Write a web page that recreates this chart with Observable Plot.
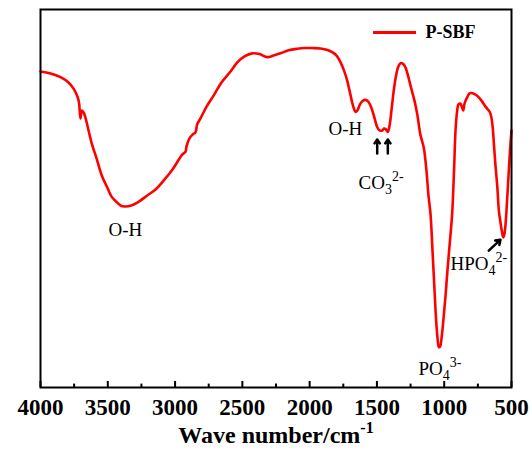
<!DOCTYPE html>
<html>
<head>
<meta charset="utf-8">
<script src="https://cdn.jsdelivr.net/npm/d3@7"></script>
<script src="https://cdn.jsdelivr.net/npm/@observablehq/plot@0.6"></script>
<style>
  html, body { margin: 0; padding: 0; background: #fff; }
  #chart svg { display: block; }
</style>
</head>
<body>
<div id="chart"></div>
<script>
// ---- Data ----
const wavenumber = [
  4000, 3926, 3851, 3792, 3753, 3725, 3714, 3703, 3692, 3680, 3666, 3643, 3621, 3579, 3547, 3504,
  3472, 3430, 3398, 3368, 3331, 3281, 3207, 3145, 3084, 3019, 2947, 2934, 2922, 2915, 2893, 2870,
  2848, 2836, 2811, 2766, 2714, 2655, 2588, 2538, 2484, 2427, 2373, 2315, 2269, 2217, 2157, 2092,
  2031, 1979, 1919, 1867, 1832, 1800, 1771, 1745, 1721, 1704, 1684, 1671, 1659, 1645, 1626, 1607,
  1585, 1566, 1548, 1525, 1498, 1481, 1461, 1447, 1436, 1419, 1406, 1392, 1377, 1362, 1343, 1325,
  1306, 1288, 1269, 1247, 1221, 1199, 1176, 1152, 1132, 1117, 1102, 1087, 1072, 1061, 1050, 1040,
  1031, 1020, 1005, 990, 976, 957, 941, 927, 916, 905, 894, 879, 868, 859, 849, 829,
  812, 797, 775, 753, 723, 693, 663, 652, 641, 631, 619, 606, 594, 582, 570, 561,
  552, 541, 532, 522, 511, 500
];
const transmittance = [
  83.6, 83.1, 82.1, 80.7, 79.0, 76.9, 75.4, 71.2, 73.3, 72.8, 71.4, 68.0, 64.8, 60.1, 56.3, 52.9,
  50.5, 48.9, 48.0, 47.9, 48.1, 48.9, 50.8, 52.4, 54.8, 57.7, 61.6, 62.0, 62.4, 63.8, 65.9, 66.9,
  67.5, 69.6, 71.2, 74.3, 77.2, 80.7, 83.6, 86.0, 87.6, 88.4, 88.2, 87.4, 87.8, 88.4, 89.2, 89.6,
  89.8, 89.8, 89.7, 89.3, 88.7, 87.8, 86.1, 83.9, 81.2, 78.6, 75.4, 73.8, 72.9, 73.3, 74.9, 75.8,
  76.1, 75.7, 74.6, 72.2, 68.9, 68.0, 68.0, 68.5, 68.4, 67.6, 69.3, 73.3, 78.0, 81.7, 84.7, 85.8,
  85.6, 84.7, 82.5, 79.4, 75.9, 72.0, 66.7, 63.5, 57.4, 50.8, 46.0, 36.2, 25.7, 18.3, 13.2, 10.7,
  10.8, 13.0, 18.3, 24.3, 31.0, 38.9, 46.0, 57.4, 68.0, 72.8, 74.9, 75.1, 74.1, 73.3, 75.1, 76.8,
  77.8, 77.9, 77.6, 77.1, 75.9, 74.3, 73.0, 71.9, 69.3, 64.6, 58.7, 53.4, 46.8, 43.7, 41.0, 39.7,
  40.7, 44.7, 50.0, 56.1, 62.7, 68.0
];

const seriesName = "P-SBF";
const xTicks = [4000, 3500, 3000, 2500, 2000, 1500, 1000, 500];
const xMinorTicks = [3750, 3250, 2750, 2250, 1750, 1250, 750];
const xLabel = "Wave number/cm";
const xLabelSup = "-1";

// Band annotations
const bandMain = ["O-H", "O-H", "CO", "PO", "HPO"];
const bandSub  = ["", "", "3", "4", "4"];
const bandSup  = ["", "", "2-", "3-", "2-"];
const bandWn   = [3495, 1860, 1637, 1191, 953];
const bandT    = [41.8, 68.5, 54.0, 5.0, 32.8];

// Small pointer arrows (x1,y1 -> x2,y2 in data units)
const arrowX1 = [1498, 1419, 669];
const arrowY1 = [61.9, 61.9, 36.2];
const arrowX2 = [1498, 1419, 582];
const arrowY2 = [65.6, 65.6, 39.1];

// Legend placement
const legendX1 = 1525, legendX2 = 1206, legendTextX = 1139, legendY = 93.9;

// ---- Build tables ----
const spectrum = wavenumber.map((w, i) => ({w, t: transmittance[i]}));
const bands = bandMain.map((m, i) => ({m, w: bandWn[i], t: bandT[i]}));
const arrows = arrowX1.map((x, i) => ({x1: x, y1: arrowY1[i], x2: arrowX2[i], y2: arrowY2[i]}));

const serif = "'Liberation Serif', 'Times New Roman', serif";
const RED = "#ff0000";

const chart = Plot.plot({
  width: 532,
  height: 450,
  marginLeft: 40,
  marginRight: 21,
  marginTop: 9,
  marginBottom: 63,
  style: {fontFamily: serif, background: "#fff"},
  x: {domain: [4000, 500], axis: null},
  y: {domain: [0, 100], axis: null},
  marks: [
    Plot.line(spectrum, {x: "w", y: "t", stroke: RED, strokeWidth: 2.6, curve: "catmull-rom"}),
    // inward tick marks
    Plot.ruleX(xTicks, {y1: 0, y2: 1.6, stroke: "black", strokeWidth: 2}),
    Plot.ruleX(xMinorTicks, {y1: 0, y2: 0.9, stroke: "black", strokeWidth: 2}),
    Plot.frame({stroke: "black", strokeWidth: 2}),
    Plot.axisX({ticks: xTicks, tickSize: 0, tickPadding: 11, fontSize: 23, fontWeight: "bold",
                fontFamily: serif, label: null, tickFormat: d => String(d)}),
    Plot.text([xLabel], {frameAnchor: "bottom", dy: 55, fontSize: 24, fontWeight: "bold",
                         fontFamily: serif, fill: "black"}),
    // band labels
    Plot.text(bands, {x: "w", y: "t", text: "m", textAnchor: "start", fontSize: 19,
                      fontFamily: serif, fill: "black"}),
    // arrows
    Plot.arrow(arrows, {x1: "x1", y1: "y1", x2: "x2", y2: "y2", stroke: "black",
                        strokeWidth: 2.5, headLength: 6, headAngle: 70}),
    // legend
    Plot.ruleY([legendY], {x1: legendX1, x2: legendX2, stroke: RED, strokeWidth: 3}),
    Plot.text([seriesName], {x: legendTextX, y: legendY, textAnchor: "start", fontSize: 18,
                             fontWeight: "bold", fontFamily: serif, fill: "black"})
  ]
});

document.getElementById("chart").appendChild(chart);

// Add subscripts / superscripts as real tspans
const NS = "http://www.w3.org/2000/svg";
function addTspan(el, txt, dy, size) {
  const s = document.createElementNS(NS, "tspan");
  s.setAttribute("dy", dy);
  s.setAttribute("font-size", size);
  s.textContent = txt;
  el.appendChild(s);
}
const allTexts = Array.from(chart.querySelectorAll("text"));
let k = 0;
allTexts.forEach(el => {
  const c = el.textContent;
  if (k < bandMain.length && c === bandMain[k]) {
    if (bandSub[k]) addTspan(el, bandSub[k], 5, 14);
    if (bandSup[k]) addTspan(el, bandSup[k], bandSub[k] ? -13 : -8, 14);
    k++;
  } else if (c === xLabel) {
    addTspan(el, xLabelSup, -10, 16);
  }
});
</script>
</body>
</html>
